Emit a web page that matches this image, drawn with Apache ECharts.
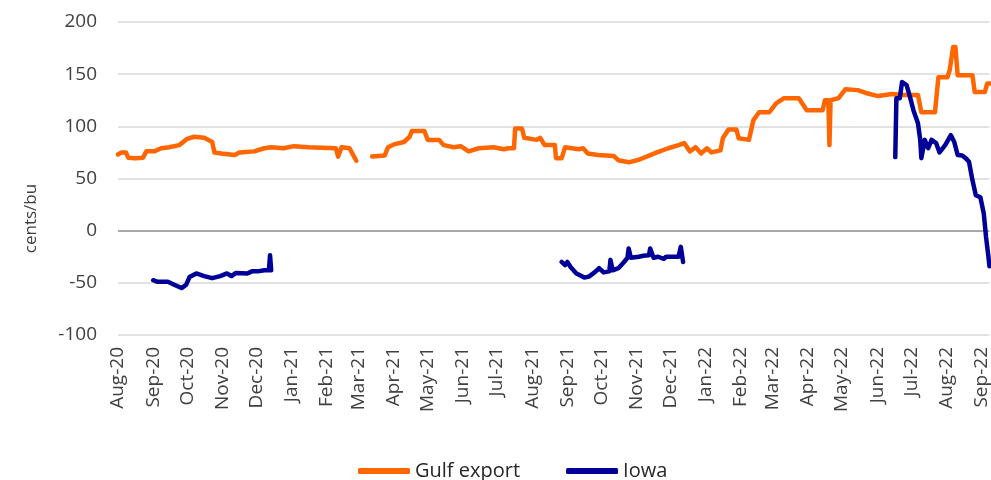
<!DOCTYPE html>
<html>
<head>
<meta charset="utf-8">
<script src="https://cdn.jsdelivr.net/npm/echarts@6/dist/echarts.min.js"></script>
<style>
  html, body { margin: 0; padding: 0; background: #fff; }
  #chart { width: 991px; height: 480px; }
</style>
</head>
<body>
<div id="chart"></div>
<script>
// Gulf export basis (cents/bu), null = gap in the series
var gulfDates = [
  '2020-08-01','2020-08-04','2020-08-08','2020-08-10','2020-08-16','2020-08-23','2020-08-26',
  '2020-09-02','2020-09-08','2020-09-15','2020-09-24','2020-10-01','2020-10-07','2020-10-16',
  '2020-10-23','2020-10-25','2020-10-31','2020-11-12','2020-11-16','2020-11-29','2020-12-08',
  '2020-12-14','2020-12-25','2021-01-03','2021-01-16','2021-02-09','2021-02-11','2021-02-14',
  '2021-02-21','2021-02-23','2021-02-27','2021-03-05',
  '2021-03-13','2021-03-24','2021-03-27','2021-04-02','2021-04-10','2021-04-15','2021-04-17',
  '2021-04-28','2021-05-01','2021-05-11','2021-05-15','2021-05-24','2021-05-30','2021-06-06',
  '2021-06-15','2021-06-28','2021-07-07','2021-07-11','2021-07-16','2021-07-17','2021-07-23',
  '2021-07-25','2021-08-05','2021-08-08','2021-08-12','2021-08-21','2021-08-22','2021-08-27',
  '2021-08-30','2021-09-11','2021-09-15','2021-09-19','2021-09-28','2021-10-12','2021-10-16',
  '2021-10-25','2021-11-03','2021-11-12','2021-11-19','2021-11-29','2021-12-08','2021-12-13',
  '2021-12-18','2021-12-23','2021-12-28','2022-01-02','2022-01-06','2022-01-14','2022-01-16',
  '2022-01-21','2022-01-28','2022-01-30','2022-02-08','2022-02-12','2022-02-17','2022-02-26',
  '2022-03-04','2022-03-11','2022-03-24','2022-03-31','2022-04-14','2022-04-16','2022-04-19',
  '2022-04-20','2022-04-21','2022-04-28','2022-05-04','2022-05-15','2022-05-22','2022-06-02',
  '2022-06-14','2022-06-24','2022-07-07','2022-07-10','2022-07-22','2022-07-25','2022-08-02',
  '2022-08-04','2022-08-07','2022-08-09','2022-08-11','2022-08-24','2022-08-26','2022-09-04',
  '2022-09-06','2022-09-10'
];
var gulfValues = [
  73, 75, 75, 70, 69.5, 70, 76,
  76, 79, 80, 82, 88, 90, 89,
  85, 75, 74, 72.5, 75, 76, 79,
  80, 79, 81, 80, 79, 71, 80,
  79, 75, 67, null,
  71, 72, 80, 83, 85, 90, 95.5,
  95.5, 87, 87, 82, 80, 81, 76,
  79, 80, 78, 79, 79, 98, 98,
  89, 87, 89, 82, 82, 69.5, 69.5,
  80, 78, 79, 74, 72.5, 71.5, 67.5,
  65.5, 68, 72, 75, 79, 82, 84,
  76, 80, 74, 79, 75, 77, 88.5,
  97, 97, 88.5, 87, 106, 113.5, 113.5,
  122, 127, 127, 115.5, 115.5, 125, 125,
  82, 125, 127, 135.5, 134.7, 132, 129,
  131, 130, 130, 113.5, 113.5, 147, 147,
  154, 176, 176, 149, 149, 133, 133,
  141, 141
];

// Iowa basis (cents/bu)
var iowaDates = [
  '2020-09-01','2020-09-05','2020-09-14','2020-09-20','2020-09-26','2020-09-30','2020-10-03',
  '2020-10-09','2020-10-16','2020-10-23','2020-10-30','2020-11-05','2020-11-09','2020-11-13',
  '2020-11-23','2020-11-27','2020-12-02','2020-12-08','2020-12-12','2020-12-13','2020-12-14',
  '2020-12-20',
  '2021-08-27','2021-08-30','2021-09-01','2021-09-04','2021-09-09','2021-09-16','2021-09-20',
  '2021-09-25','2021-09-29','2021-10-03','2021-10-08','2021-10-09','2021-10-11','2021-10-16',
  '2021-10-21','2021-10-24','2021-10-25','2021-10-27','2021-11-03','2021-11-07','2021-11-12',
  '2021-11-13','2021-11-16','2021-11-20','2021-11-25','2021-11-27','2021-12-08','2021-12-10',
  '2021-12-12','2022-01-01',
  '2022-06-17','2022-06-18','2022-06-21','2022-06-23','2022-06-27','2022-06-30','2022-07-03',
  '2022-07-07','2022-07-09','2022-07-10','2022-07-13','2022-07-16','2022-07-19','2022-07-23',
  '2022-07-26','2022-07-31','2022-08-05','2022-08-08','2022-08-11','2022-08-15','2022-08-18',
  '2022-08-21','2022-08-24','2022-08-27','2022-08-31','2022-09-03','2022-09-05','2022-09-07',
  '2022-09-08'
];
var iowaValues = [
  -47.5, -49, -49, -52, -55, -52, -44.5,
  -41, -43.5, -45.5, -43.5, -41, -43.5, -40.5,
  -41, -39, -39, -38, -38, -23.5, -38,
  null,
  -30, -33, -30, -35, -41, -45, -44,
  -40, -36, -40, -39, -28, -38, -36,
  -30, -26, -17, -26, -25, -24, -23.5,
  -17, -26, -25, -27, -25, -25, -15.5,
  -30, null,
  70.5, 127, 127, 142.5, 139.5, 128, 115.5,
  103, 87, 69.5, 87, 79, 87, 84,
  75, 82, 91.5, 85, 72.5, 72, 69.5,
  66, 48.5, 34, 32, 16.5, -6, -24,
  -34
];

var seriesNames = ['Gulf export', 'Iowa'];
var seriesColors = ['#ff6600', '#000099'];
var yTicks = [-100, -50, 0, 50, 100, 150, 200];
var monthNames = ['Jan','Feb','Mar','Apr','May','Jun','Jul','Aug','Sep','Oct','Nov','Dec'];

function pairs(dates, values){
    var out = [];
    for (var i = 0; i < dates.length; i++) out.push([dates[i], values[i]]);
    return out;
}

var gridColors = yTicks.map(function(v){ return v === 0 ? '#8c8c8c' : '#d9d9d9'; });
var DAY = 24 * 3600 * 1000;

var chart = echarts.init(document.getElementById('chart'), null, {renderer: 'canvas'});
chart.setOption({
    animation: false,
    color: seriesColors,
    textStyle: {fontFamily: 'Open Sans'},
    grid: {left: 118, top: 22, right: 0, bottom: 145},
    legend: {
        data: seriesNames,
        left: 353, top: 456,
        icon: 'roundRect', itemWidth: 52, itemHeight: 6, itemGap: 46,
        textStyle: {fontSize: 20, color: '#262626', fontFamily: 'Open Sans'}
    },
    xAxis: {
        type: 'time',
        min: '2020-08-01', max: '2022-09-08',
        splitNumber: 26, minInterval: 28 * DAY, maxInterval: 31 * DAY,
        axisLine: {show: false}, axisTick: {show: false}, splitLine: {show: false},
        axisLabel: {
            rotate: 90, margin: 12, fontSize: 19, color: '#404040',
            showMaxLabel: false, hideOverlap: false,
            formatter: function(v){
                var d = new Date(v);
                return monthNames[d.getMonth()] + '-' + String(d.getFullYear()).slice(2);
            }
        }
    },
    yAxis: {
        type: 'value', min: -100, max: 200, interval: 50,
        name: 'cents/bu', nameLocation: 'middle', nameGap: 78,
        nameTextStyle: {fontSize: 17, color: '#404040', padding: [0, 80, 0, 0]},
        axisLine: {show: false}, axisTick: {show: false},
        axisLabel: {fontSize: 19, color: '#404040', margin: 21},
        splitLine: {lineStyle: {color: gridColors, width: 1.5}}
    },
    series: [{
        name: seriesNames[0], type: 'line', symbol: 'none', connectNulls: false,
        lineStyle: {width: 4.5, cap: 'round', join: 'round'},
        data: pairs(gulfDates, gulfValues)
    }, {
        name: seriesNames[1], type: 'line', symbol: 'none', connectNulls: false,
        lineStyle: {width: 4.5, cap: 'round', join: 'round'},
        data: pairs(iowaDates, iowaValues)
    }]
});
</script>
</body>
</html>
